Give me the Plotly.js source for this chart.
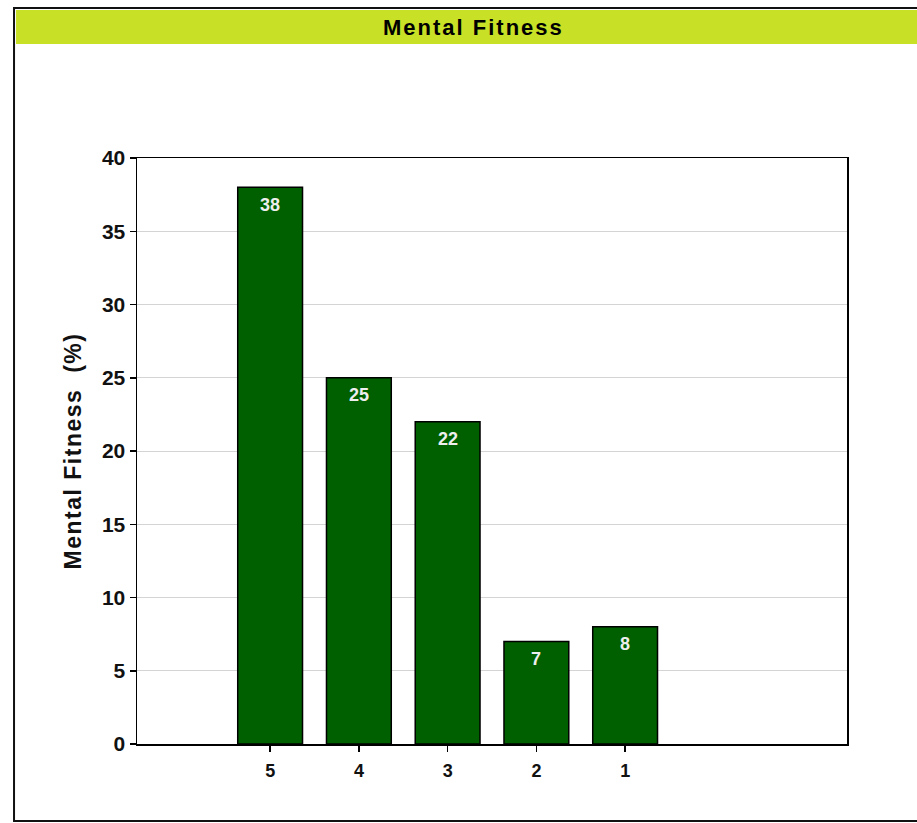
<!DOCTYPE html>
<html>
<head>
<meta charset="utf-8">
<script src="https://cdn.plot.ly/plotly-3.0.1.min.js"></script>
<style>
html,body{margin:0;padding:0;background:#fff;}
#chart{width:917px;height:823px;}
#chart .g-ytitle text{letter-spacing:1.5px;}
#chart .annotation[data-index="0"] text{letter-spacing:2px;}
</style>
</head>
<body>
<div id="chart"></div>
<script>
var categories = ["5", "4", "3", "2", "1"];
var values = [38, 25, 22, 7, 8];
var chartTitle = "Mental Fitness";
var yTitle = "Mental Fitness  (%)";

var FONT = "Liberation Sans, Arial, sans-serif";

var trace = {
  type: "bar",
  x: categories,
  y: values,
  width: 0.73,
  marker: {color: "#006000", line: {color: "#000000", width: 1.5}},
  hoverinfo: "none"
};

var annotations = [
  {xref: "paper", yref: "paper", x: 0.4746, y: 1.2235,
   xanchor: "center", yanchor: "middle", showarrow: false,
   text: chartTitle,
   font: {family: FONT, size: 22, color: "#000", weight: "bold"}}
];
categories.forEach(function (c, i) {
  annotations.push({
    xref: "x", yref: "y", x: i, y: values[i],
    xanchor: "center", yanchor: "middle", yshift: -17.5,
    showarrow: false, text: String(values[i]),
    font: {family: FONT, size: 18, color: "#eeeeee", weight: "bold"}
  });
});

var layout = {
  width: 917,
  height: 823,
  margin: {l: 137, r: 70, t: 158, b: 79},
  paper_bgcolor: "#ffffff",
  plot_bgcolor: "#ffffff",
  showlegend: false,
  xaxis: {
    type: "category",
    range: [-1.5, 6.5],
    showline: true, linecolor: "#000", linewidth: 1.5, mirror: true,
    ticks: "outside", ticklen: 6, tickwidth: 1.5, tickcolor: "#000",
    showgrid: false, zeroline: false,
    ticklabelstandoff: 4,
    tickfont: {family: FONT, size: 18, color: "#111", weight: "bold"}
  },
  yaxis: {
    range: [0, 40],
    dtick: 5,
    showline: true, linecolor: "#000", linewidth: 1.5, mirror: true,
    ticks: "outside", ticklen: 6, tickwidth: 1.5, tickcolor: "#000",
    showgrid: true, gridcolor: "#d4d4d4", gridwidth: 1,
    zeroline: false,
    tickfont: {family: FONT, size: 21, color: "#111", weight: "bold"},
    title: {text: yTitle, standoff: 14, font: {family: FONT, size: 23, color: "#111", weight: "bold"}}
  },
  shapes: [
    {type: "rect", xref: "paper", yref: "paper",
     x0: -0.1704, x1: 1.12, y0: 1.1945, y1: 1.2526,
     fillcolor: "#c8e026", line: {width: 0}, layer: "below"},
    {type: "rect", xref: "paper", yref: "paper",
     x0: -0.1732, x1: 1.2, y0: -0.1314, y1: 1.256,
     fillcolor: "rgba(0,0,0,0)", line: {color: "#111", width: 2}}
  ],
  annotations: annotations
};

Plotly.newPlot("chart", [trace], layout, {staticPlot: true, displayModeBar: false});
</script>
</body>
</html>
